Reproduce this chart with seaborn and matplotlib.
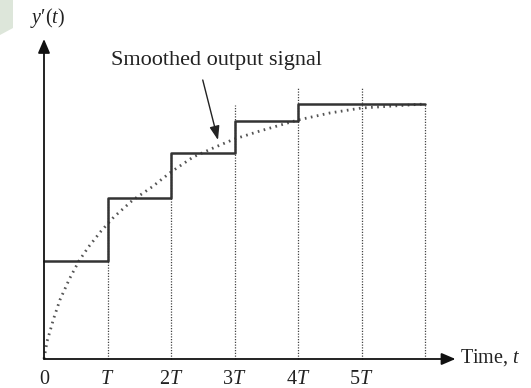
import matplotlib
matplotlib.use("Agg")
import matplotlib.pyplot as plt
from matplotlib.patches import Polygon
import seaborn as sns

# Step (sampled) output: level held over each period, time in units of T
step_t = [0, 1, 2, 3, 4, 6]
step_level = [98, 161, 206, 238, 255, 255]

# Smoothed output signal
curve_t = [0, 0.05, 0.15, 0.25, 0.4, 0.55, 0.7, 0.9, 1.1, 1.4, 1.7, 2.0,
           2.35, 2.7, 3.0, 3.4, 4.0, 4.5, 5.0, 5.5, 6.0]
curve_h = [0, 18, 40, 59, 80, 98, 112, 128, 142, 159, 172, 187,
           202, 212, 220, 228, 239, 246, 251, 253, 255]

# Dotted guide lines at each sampling instant and how high they reach
grid_t = [1, 2, 3, 4, 5, 6]
grid_top = [161, 206, 254, 271, 271, 255]

tick_t = [0, 1, 2, 3, 4, 5]
tick_labels = ["0", "$T$", "$2T$", "$3T$", "$4T$", "$5T$"]

sns.set_theme(style="white")
plt.rcParams["font.family"] = ["Liberation Serif", "DejaVu Serif"]
plt.rcParams["mathtext.fontset"] = "custom"
plt.rcParams["mathtext.rm"] = "Liberation Serif"
plt.rcParams["mathtext.it"] = "Liberation Serif:italic"

fig = plt.figure(figsize=(5.31, 3.88), dpi=100)
ax = fig.add_axes([0, 0, 1, 1])
ax.set_xlim(-44 / 63.5, (531 - 44) / 63.5)
ax.set_ylim(-29, 359)
ax.axis("off")

# light slide decoration in the corner
fig.patches.append(Polygon([(0, 1), (13 / 531, 1), (13 / 531, 1 - 28 / 388), (0, 1 - 35 / 388)],
                           closed=True, transform=fig.transFigure,
                           facecolor="#dde6da", edgecolor="none"))

ax.vlines(grid_t, 0, grid_top, colors="#444444", linewidth=0.9,
          linestyles=(0, (1, 1.2)))

sns.lineplot(x=curve_t, y=curve_h, ax=ax, color="#555555", linewidth=2.0,
             linestyle=(0, (0.6, 1.6)), sort=False)
sns.lineplot(x=step_t, y=step_level, ax=ax, color="#333333", linewidth=1.8,
             drawstyle="steps-post", sort=False)

# axes with arrow heads
arrow = dict(arrowstyle="-|>,head_length=0.7,head_width=0.3", color="#111111",
             linewidth=1.3, shrinkA=0, shrinkB=0)
ax.annotate("", xy=(0, 320), xytext=(0, 0), arrowprops=arrow)
ax.annotate("", xy=(6.48, 0), xytext=(0, 0), arrowprops=arrow)

for t, lab in zip(tick_t, tick_labels):
    ax.text(t, -20, lab, ha="center", va="center", fontsize=14.5, color="#222222")

ax.text(0.06, 341, "$y$\u2032$(t)$", ha="center", va="center", fontsize=14.5, color="#222222")
ax.text(6.55, 1, "Time, $t$", ha="left", va="center", fontsize=14.5, color="#222222")

ax.text(2.72, 299, "Smoothed output signal", ha="center", va="center",
        fontsize=16, color="#222222")
ax.annotate("", xy=(2.74, 219), xytext=(2.50, 279),
            arrowprops=dict(arrowstyle="-|>,head_length=0.7,head_width=0.25",
                            color="#222222", linewidth=1.0, shrinkA=0, shrinkB=0))

fig.savefig("out.png", dpi=100)
